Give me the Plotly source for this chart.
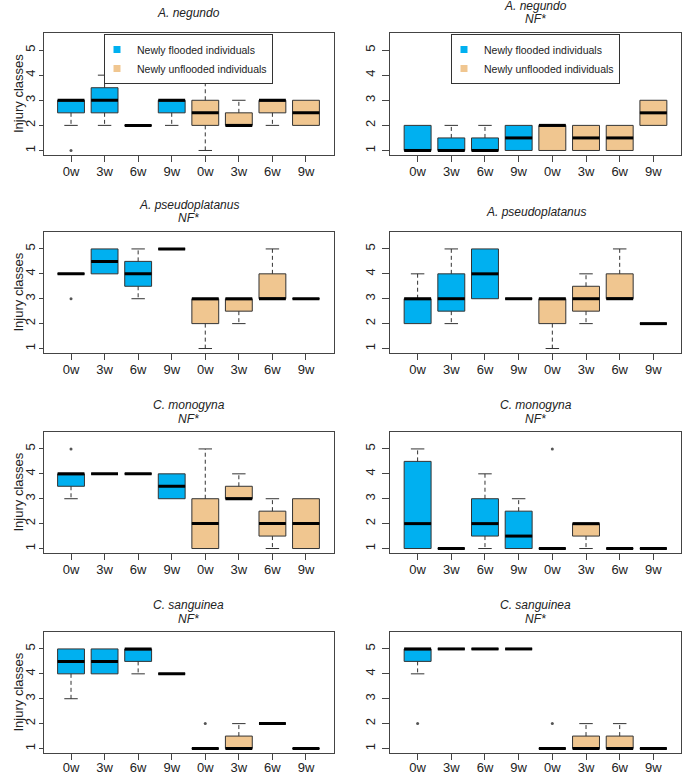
import plotly.graph_objects as go

# ---------------- data ----------------
tick_labels = ["0w", "3w", "6w", "9w", "0w", "3w", "6w", "9w"]
positions = [1, 2, 3, 4, 5, 6, 7, 8]
legend_names = ["Newly flooded individuals", "Newly unflooded individuals"]
y_title = "Injury classes"

titles_main = ["A. negundo", "A. negundo", "A. pseudoplatanus", "A. pseudoplatanus",
               "C. monogyna", "C. monogyna", "C. sanguinea", "C. sanguinea"]
titles_sub = ["", "NF*", "NF*", "", "NF*", "NF*", "NF*", "NF*"]

# per panel: lower whisker, q1, median, q3, upper whisker (8 groups each)
p1_lo  = [2, 2, 2, 2, 1, 2, 2, 2]
p1_q1  = [2.5, 2.5, 2, 2.5, 2, 2, 2.5, 2]
p1_med = [3, 3, 2, 3, 2.5, 2, 3, 2.5]
p1_q3  = [3, 3.5, 2, 3, 3, 2.5, 3, 3]
p1_hi  = [3, 4, 2, 3, 4, 3, 3, 3]
p1_out = [(1, 1)]

p2_lo  = [1, 1, 1, 1, 1, 1, 1, 2]
p2_q1  = [1, 1, 1, 1, 1, 1, 1, 2]
p2_med = [1, 1, 1, 1.5, 2, 1.5, 1.5, 2.5]
p2_q3  = [2, 1.5, 1.5, 2, 2, 2, 2, 3]
p2_hi  = [2, 2, 2, 2, 2, 2, 2, 3]
p2_out = []

p3_lo  = [4, 4, 3, 5, 1, 2, 3, 3]
p3_q1  = [4, 4, 3.5, 5, 2, 2.5, 3, 3]
p3_med = [4, 4.5, 4, 5, 3, 3, 3, 3]
p3_q3  = [4, 5, 4.5, 5, 3, 3, 4, 3]
p3_hi  = [4, 5, 5, 5, 3, 3, 5, 3]
p3_out = [(1, 3)]

p4_lo  = [2, 2, 3, 3, 1, 2, 3, 2]
p4_q1  = [2, 2.5, 3, 3, 2, 2.5, 3, 2]
p4_med = [3, 3, 4, 3, 3, 3, 3, 2]
p4_q3  = [3, 4, 5, 3, 3, 3.5, 4, 2]
p4_hi  = [4, 5, 5, 3, 3, 4, 5, 2]
p4_out = []

p5_lo  = [3, 4, 4, 3, 1, 3, 1, 1]
p5_q1  = [3.5, 4, 4, 3, 1, 3, 1.5, 1]
p5_med = [4, 4, 4, 3.5, 2, 3, 2, 2]
p5_q3  = [4, 4, 4, 4, 3, 3.5, 2.5, 3]
p5_hi  = [4, 4, 4, 4, 5, 4, 3, 3]
p5_out = [(1, 5)]

p6_lo  = [1, 1, 1, 1, 1, 1, 1, 1]
p6_q1  = [1, 1, 1.5, 1, 1, 1.5, 1, 1]
p6_med = [2, 1, 2, 1.5, 1, 2, 1, 1]
p6_q3  = [4.5, 1, 3, 2.5, 1, 2, 1, 1]
p6_hi  = [5, 1, 4, 3, 1, 2, 1, 1]
p6_out = [(5, 5)]

p7_lo  = [3, 4, 4, 4, 1, 1, 2, 1]
p7_q1  = [4, 4, 4.5, 4, 1, 1, 2, 1]
p7_med = [4.5, 4.5, 5, 4, 1, 1, 2, 1]
p7_q3  = [5, 5, 5, 4, 1, 1.5, 2, 1]
p7_hi  = [5, 5, 5, 4, 1, 2, 2, 1]
p7_out = [(5, 2)]

p8_lo  = [4, 5, 5, 5, 1, 1, 1, 1]
p8_q1  = [4.5, 5, 5, 5, 1, 1, 1, 1]
p8_med = [5, 5, 5, 5, 1, 1, 1, 1]
p8_q3  = [5, 5, 5, 5, 1, 1.5, 1.5, 1]
p8_hi  = [5, 5, 5, 5, 1, 2, 2, 1]
p8_out = [(1, 2), (5, 2)]

panels = [
    (p1_lo, p1_q1, p1_med, p1_q3, p1_hi, p1_out),
    (p2_lo, p2_q1, p2_med, p2_q3, p2_hi, p2_out),
    (p3_lo, p3_q1, p3_med, p3_q3, p3_hi, p3_out),
    (p4_lo, p4_q1, p4_med, p4_q3, p4_hi, p4_out),
    (p5_lo, p5_q1, p5_med, p5_q3, p5_hi, p5_out),
    (p6_lo, p6_q1, p6_med, p6_q3, p6_hi, p6_out),
    (p7_lo, p7_q1, p7_med, p7_q3, p7_hi, p7_out),
    (p8_lo, p8_q1, p8_med, p8_q3, p8_hi, p8_out),
]

# ---------------- style ----------------
W, H = 685, 777
BLUE = "#00B0F0"
TAN = "#F0C690"
colors = [BLUE] * 4 + [TAN] * 4
FONT = "Liberation Sans, Arial, sans-serif"
FRAME = "#444444"
TXT = "#222222"
BOX_W = 0.8
CAP_W = 0.4

col_px = [(43.5, 333.5), (390, 681)]
row_px = [(33, 155), (232, 353), (432, 553), (632, 753)]
y_ticklen = [4, 7]
y_standoff = [-2, 2]

fig = go.Figure()
layout = dict(
    width=W, height=H, margin=dict(l=0, r=0, t=0, b=0),
    paper_bgcolor="white", plot_bgcolor="white",
    boxmode="overlay", showlegend=True,
    font=dict(family=FONT, color=TXT),
)
annotations = []

for i, (lo, q1, med, q3, hi, out) in enumerate(panels):
    r, c = divmod(i, 2)
    n = i + 1
    xa = "x" if n == 1 else f"x{n}"
    ya = "y" if n == 1 else f"y{n}"
    xdom = [col_px[c][0] / W, col_px[c][1] / W]
    ydom = [1 - row_px[r][1] / H, 1 - row_px[r][0] / H]

    layout["xaxis" if n == 1 else f"xaxis{n}"] = dict(
        domain=xdom, anchor=ya, range=[0.18, 8.82],
        tickmode="array", tickvals=positions, ticktext=tick_labels,
        ticks="outside", ticklen=6, tickcolor=FRAME,
        ticklabelstandoff=(-4 if r == 3 else -2),
        showline=True, mirror=True, linecolor=FRAME, linewidth=1,
        showgrid=False, zeroline=False, automargin=False,
        tickfont=dict(size=13, color=TXT, family=FONT),
    )
    layout["yaxis" if n == 1 else f"yaxis{n}"] = dict(
        domain=ydom, anchor=xa, range=[0.82, 5.68],
        tickmode="array", tickvals=[1, 2, 3, 4, 5],
        ticks="outside", ticklen=y_ticklen[c], tickcolor=FRAME, tickangle=-90,
        ticklabelstandoff=y_standoff[c],
        showline=True, mirror=True, linecolor=FRAME, linewidth=1,
        showgrid=False, zeroline=False, automargin=False,
        tickfont=dict(size=13, color=TXT, family=FONT),
    )
    if c == 0:
        annotations.append(dict(
            text=y_title, x=18 / W, y=(ydom[0] + ydom[1]) / 2,
            xref="paper", yref="paper", xanchor="center", yanchor="middle",
            textangle=-90, showarrow=False,
            font=dict(size=13, color=TXT, family=FONT)))

    # boxes (flooded / unflooded groups)
    for g, sl in enumerate([slice(0, 4), slice(4, 8)]):
        fig.add_trace(go.Box(
            x=positions[sl], q1=q1[sl], median=med[sl], q3=q3[sl],
            lowerfence=q1[sl], upperfence=q3[sl],
            width=BOX_W, whiskerwidth=0, boxpoints=False,
            fillcolor=colors[sl][0], line=dict(color="#333333", width=1),
            xaxis=xa, yaxis=ya, showlegend=False, hoverinfo="skip",
        ))

    # dashed whiskers
    wx, wy = [], []
    for p, a, b, cc, d in zip(positions, lo, q1, q3, hi):
        if d > cc:
            wx += [p, p, None]; wy += [cc, d, None]
        if a < b:
            wx += [p, p, None]; wy += [b, a, None]
    fig.add_trace(go.Scatter(x=wx, y=wy, mode="lines",
                             line=dict(color="#333333", width=1, dash="4px,3px"),
                             xaxis=xa, yaxis=ya, showlegend=False, hoverinfo="skip"))
    # caps
    cx, cy = [], []
    for p, a, b, cc, d in zip(positions, lo, q1, q3, hi):
        if d > cc:
            cx += [p - CAP_W / 2, p + CAP_W / 2, None]; cy += [d, d, None]
        if a < b:
            cx += [p - CAP_W / 2, p + CAP_W / 2, None]; cy += [a, a, None]
    fig.add_trace(go.Scatter(x=cx, y=cy, mode="lines",
                             line=dict(color="#333333", width=1),
                             xaxis=xa, yaxis=ya, showlegend=False, hoverinfo="skip"))
    # thick medians
    mx, my = [], []
    for p, m in zip(positions, med):
        mx += [p - BOX_W / 2, p + BOX_W / 2, None]; my += [m, m, None]
    fig.add_trace(go.Scatter(x=mx, y=my, mode="lines",
                             line=dict(color="black", width=3),
                             xaxis=xa, yaxis=ya, showlegend=False, hoverinfo="skip"))
    # outliers
    if out:
        fig.add_trace(go.Scatter(x=[o[0] for o in out], y=[o[1] for o in out],
                                 mode="markers", marker=dict(size=3, color="#555555"),
                                 xaxis=xa, yaxis=ya, showlegend=False, hoverinfo="skip"))

    # titles
    xc = (col_px[c][0] + col_px[c][1]) / 2 / W
    top = row_px[r][0]
    if titles_sub[i]:
        lines = [(titles_main[i], top - 27), (titles_sub[i], top - 13.5)]
    else:
        lines = [(titles_main[i], top - 20)]
    for txt, ypx in lines:
        annotations.append(dict(
            text=f"<i>{txt}</i>", x=xc, y=1 - ypx / H, xref="paper", yref="paper",
            xanchor="center", yanchor="middle", showarrow=False,
            font=dict(size=12, color=TXT, family=FONT)))

    # legends in top panels
    if r == 0:
        lg = "legend" if c == 0 else "legend2"
        for name, col in zip(legend_names, [BLUE, TAN]):
            fig.add_trace(go.Scatter(
                x=[None], y=[None], mode="markers", name=name,
                marker=dict(symbol="square", size=7, color=col),
                xaxis=xa, yaxis=ya, legend=lg, showlegend=True))
        layout[lg] = dict(
            x=xc, y=1 - (top + 1) / H, xanchor="center", yanchor="top",
            bordercolor="#333333", borderwidth=1, bgcolor="white",
            font=dict(size=10.5, color=TXT, family=FONT),
            tracegroupgap=0, itemwidth=30, indentation=-8,
        )

layout["annotations"] = annotations
fig.update_layout(**layout)
fig.write_html("out.html", config={"displayModeBar": False},
               post_script="document.body.style.margin='0';")
